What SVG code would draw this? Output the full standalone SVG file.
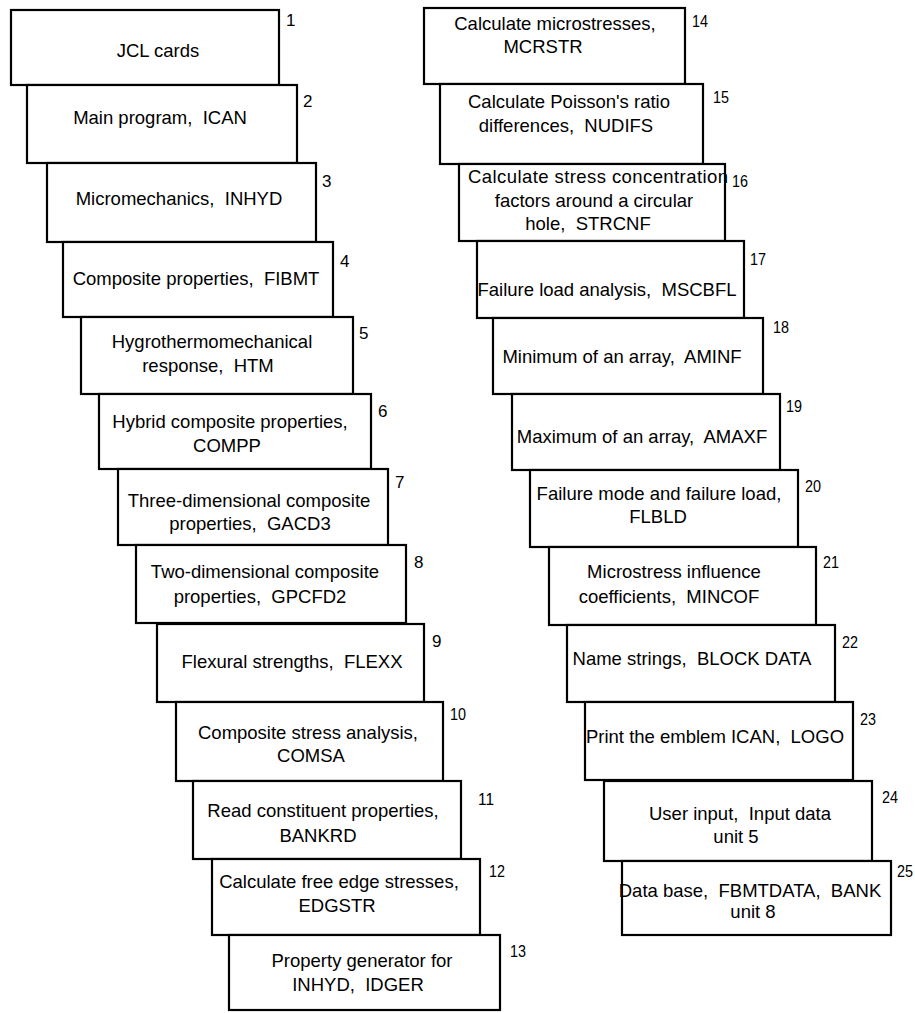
<svg xmlns="http://www.w3.org/2000/svg" width="915" height="1013" viewBox="0 0 915 1013">
<style>
.card{fill:#fff;stroke:#000;stroke-width:2.2}
.t{font-family:"Liberation Sans",Arial,sans-serif;font-size:18.5px;fill:#000;text-anchor:middle;white-space:pre}
.n{font-family:"Liberation Sans Narrow","Liberation Sans",Arial,sans-serif;font-size:17px;fill:#000;white-space:pre}
</style>
<rect width="915" height="1013" fill="#fff"/>
<g id="connectors"></g>
<g id="card1"><rect class="card" x="11" y="10" width="268" height="75"/><text class="t" x="158" y="57">JCL cards</text><text class="n" x="286" y="26">1</text></g>
<g id="card2"><rect class="card" x="27" y="85" width="270" height="78"/><text class="t" x="160" y="124">Main program,  ICAN</text><text class="n" x="303" y="107">2</text></g>
<g id="card3"><rect class="card" x="47" y="163" width="269" height="79"/><text class="t" x="179" y="205">Micromechanics,  INHYD</text><text class="n" x="322" y="187">3</text></g>
<g id="card4"><rect class="card" x="63" y="242" width="270" height="75"/><text class="t" x="196" y="285">Composite properties,  FIBMT</text><text class="n" x="340" y="267">4</text></g>
<g id="card5"><rect class="card" x="81" y="317" width="272" height="77"/><text class="t" x="212" y="348">Hygrothermomechanical</text><text class="t" x="208" y="372">response,  HTM</text><text class="n" x="359" y="339">5</text></g>
<g id="card6"><rect class="card" x="99" y="394" width="272" height="75"/><text class="t" x="230" y="428">Hybrid composite properties,</text><text class="t" x="227" y="452">COMPP</text><text class="n" x="378" y="417">6</text></g>
<g id="card7"><rect class="card" x="118" y="469" width="270" height="76"/><text class="t" x="249" y="507">Three-dimensional composite</text><text class="t" x="250" y="530">properties,  GACD3</text><text class="n" x="395" y="488">7</text></g>
<g id="card8"><rect class="card" x="136" y="545" width="270" height="78"/><text class="t" x="265" y="578">Two-dimensional composite</text><text class="t" x="260" y="603">properties,  GPCFD2</text><text class="n" x="414" y="568">8</text></g>
<g id="card9"><rect class="card" x="157" y="624" width="267" height="78"/><text class="t" x="292" y="668">Flexural strengths,  FLEXX</text><text class="n" x="432" y="647">9</text></g>
<g id="card10"><rect class="card" x="176" y="702" width="267" height="79"/><text class="t" x="308" y="739">Composite stress analysis,</text><text class="t" x="311" y="762">COMSA</text><text class="n" x="450" y="720" textLength="16" lengthAdjust="spacingAndGlyphs">10</text></g>
<g id="card11"><rect class="card" x="193" y="781" width="268" height="78"/><text class="t" x="323" y="817">Read constituent properties,</text><text class="t" x="318" y="842">BANKRD</text><text class="n" x="478" y="805" textLength="16" lengthAdjust="spacingAndGlyphs">11</text></g>
<g id="card12"><rect class="card" x="212" y="859" width="268" height="76"/><text class="t" x="339" y="888">Calculate free edge stresses,</text><text class="t" x="337" y="912">EDGSTR</text><text class="n" x="489" y="877" textLength="16" lengthAdjust="spacingAndGlyphs">12</text></g>
<g id="card13"><rect class="card" x="229" y="935" width="271" height="75"/><text class="t" x="362" y="967">Property generator for</text><text class="t" x="358" y="991">INHYD,  IDGER</text><text class="n" x="510" y="957" textLength="16" lengthAdjust="spacingAndGlyphs">13</text></g>
<g id="card14"><rect class="card" x="424" y="8" width="261" height="76"/><text class="t" x="555" y="30">Calculate microstresses,</text><text class="t" x="543" y="53">MCRSTR</text><text class="n" x="692" y="27" textLength="16" lengthAdjust="spacingAndGlyphs">14</text></g>
<g id="card15"><rect class="card" x="440" y="84" width="263" height="80"/><text class="t" x="569" y="108">Calculate Poisson's ratio</text><text class="t" x="566" y="132">differences,  NUDIFS</text><text class="n" x="713" y="103" textLength="16" lengthAdjust="spacingAndGlyphs">15</text></g>
<g id="card16"><rect class="card" x="459" y="164" width="266" height="77"/><text class="t" x="598" y="183" textLength="260" lengthAdjust="spacing">Calculate stress concentration</text><text class="t" x="594" y="207">factors around a circular</text><text class="t" x="588" y="230">hole,  STRCNF</text><text class="n" x="732" y="187" textLength="16" lengthAdjust="spacingAndGlyphs">16</text></g>
<g id="card17"><rect class="card" x="477" y="241" width="267" height="77"/><text class="t" x="607" y="296">Failure load analysis,  MSCBFL</text><text class="n" x="750" y="265" textLength="16" lengthAdjust="spacingAndGlyphs">17</text></g>
<g id="card18"><rect class="card" x="493" y="318" width="270" height="76"/><text class="t" x="622" y="363">Minimum of an array,  AMINF</text><text class="n" x="773" y="333" textLength="16" lengthAdjust="spacingAndGlyphs">18</text></g>
<g id="card19"><rect class="card" x="512" y="394" width="268" height="76"/><text class="t" x="642" y="443">Maximum of an array,  AMAXF</text><text class="n" x="786" y="412" textLength="16" lengthAdjust="spacingAndGlyphs">19</text></g>
<g id="card20"><rect class="card" x="530" y="470" width="268" height="77"/><text class="t" x="659" y="500">Failure mode and failure load,</text><text class="t" x="658" y="523">FLBLD</text><text class="n" x="805" y="492" textLength="16" lengthAdjust="spacingAndGlyphs">20</text></g>
<g id="card21"><rect class="card" x="549" y="547" width="267" height="78"/><text class="t" x="674" y="578">Microstress influence</text><text class="t" x="669" y="603">coefficients,  MINCOF</text><text class="n" x="823" y="568" textLength="16" lengthAdjust="spacingAndGlyphs">21</text></g>
<g id="card22"><rect class="card" x="567" y="625" width="268" height="77"/><text class="t" x="692" y="665">Name strings,  BLOCK DATA</text><text class="n" x="842" y="648" textLength="16" lengthAdjust="spacingAndGlyphs">22</text></g>
<g id="card23"><rect class="card" x="585" y="702" width="268" height="78"/><text class="t" x="715" y="743">Print the emblem ICAN,  LOGO</text><text class="n" x="860" y="725" textLength="16" lengthAdjust="spacingAndGlyphs">23</text></g>
<g id="card24"><rect class="card" x="604" y="781" width="268" height="80"/><text class="t" x="740" y="820">User input,  Input data</text><text class="t" x="736" y="843">unit 5</text><text class="n" x="882" y="803" textLength="16" lengthAdjust="spacingAndGlyphs">24</text></g>
<g id="card25"><rect class="card" x="622" y="861" width="269" height="74"/><text class="t" x="750" y="897">Data base,  FBMTDATA,  BANK</text><text class="t" x="753" y="918">unit 8</text><text class="n" x="897" y="877" textLength="16" lengthAdjust="spacingAndGlyphs">25</text></g>
</svg>
